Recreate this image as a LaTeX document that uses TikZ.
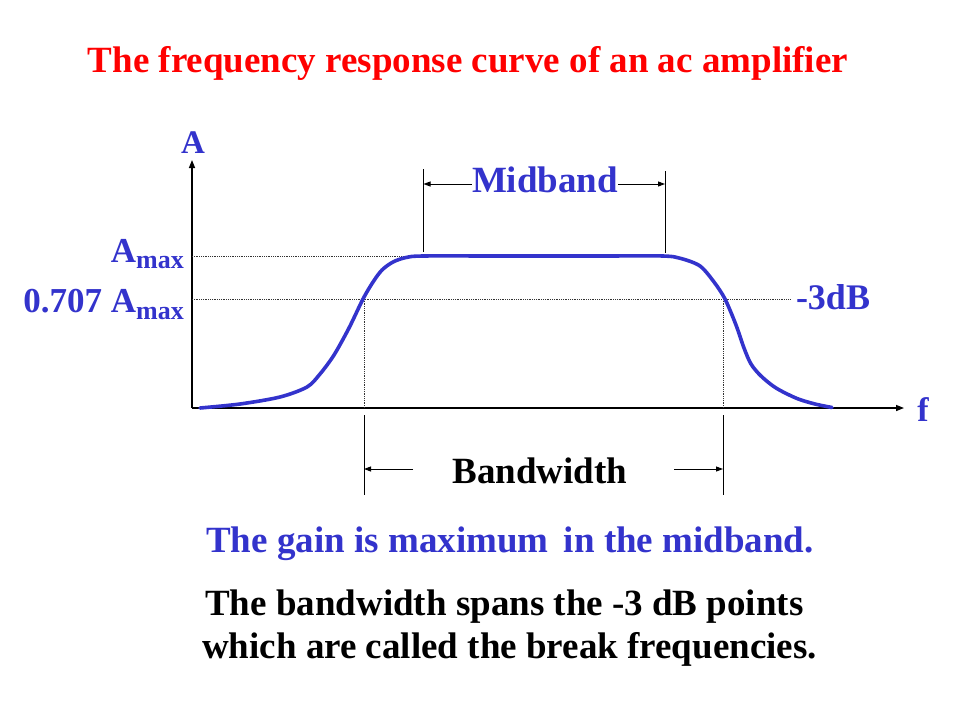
\documentclass[tikz,border=0pt]{standalone}
\usepackage{fontspec}
\setmainfont{Liberation Serif}
\usetikzlibrary{arrows.meta}
\definecolor{tblue}{RGB}{51,51,204}
\definecolor{tred}{RGB}{255,0,0}
\begin{document}
\begin{tikzpicture}[x=1pt,y=-1pt,
  txt/.style={inner sep=0pt,font=\bfseries\fontsize{37}{44}\selectfont},
  lbl/.style={inner sep=0pt,font=\bfseries\fontsize{35}{40}\selectfont,text=tblue},
  axisline/.style={line width=1.4pt,-{Triangle[length=8pt,width=6pt]}},
  marker/.style={line width=0.9pt},
  dimarrow/.style={line width=0.9pt,-{Triangle[length=7pt,width=5pt]}},
  dots/.style={line width=0.6pt,dash pattern=on 0.8pt off 1pt,black!80},
  curve/.style={line width=3.6pt,tblue,line cap=round}]
\fill[white] (0,0) rectangle (960,720);
\useasboundingbox (0,0) rectangle (960,720);
% title
\node[txt,text=tred,anchor=base] (title) at (468,72) {The frequency response curve of an ac amplifier};
% axes
\coordinate (O) at (192,408);
\coordinate (ytip) at (192,160);
\coordinate (xtip) at (904,408);
\draw[axisline] (O) -- (ytip);
\draw[axisline] (O) -- (xtip);
\node[lbl,anchor=base,font=\bfseries\fontsize{33}{40}\selectfont] (Alab) at (193,153) {A};
\node[lbl,anchor=base,font=\bfseries\fontsize{34}{40}\selectfont] (flab) at (923,421) {f};
% dotted reference lines
\coordinate (amaxL) at (192,256);
\coordinate (amaxR) at (405,256);
\coordinate (dbL) at (192,299);
\coordinate (dbR) at (790,299);
\coordinate (c1) at (364,299);
\coordinate (c2) at (723,299);
\coordinate (c1b) at (364,408);
\coordinate (c2b) at (723,408);
\draw[dots] (amaxL) -- (amaxR);
\draw[dots] (dbL) -- (dbR);
\draw[dots] (c1) -- (c1b);
\draw[dots] (c2) -- (c2b);
% labels on the left
\node[lbl,anchor=base east] (amax) at (184,262) {A\raisebox{-6pt}{\fontsize{26}{26}\selectfont max}};
\node[lbl,anchor=base east] (a707) at (184,312) {0.707 A\raisebox{-7pt}{\fontsize{26}{26}\selectfont max}};
\node[lbl,anchor=base,font=\bfseries\fontsize{36}{40}\selectfont] (db) at (833,309) {-3dB};
% curve
\draw[curve] plot[smooth,tension=0.5] coordinates {
 (200,408) (240,404) (280,397) (307,387) (320,374) (334,355) (349,328) (363,299)
 (373,282) (382,270) (393,262) (406,257.5) (423,256) (500,256) (600,256) (663,256)
 (681,258.5) (700,266) (714,282) (725,299) (736,325) (744,348) (751,364) (761,376)
 (776,388) (797,398.5) (815,404) (832,407.5)};
% midband marker
\node[txt,text=tblue,anchor=base] (mid) at (545,192) {Midband};
\coordinate (m1t) at (423.5,169);
\coordinate (m1b) at (423.5,252);
\coordinate (m2t) at (665,171);
\coordinate (m2b) at (665,253);
\coordinate (m1a) at (423.5,184);
\coordinate (m2a) at (665,184);
\draw[marker] (m1t) -- (m1b);
\draw[marker] (m2t) -- (m2b);
\draw[dimarrow] (mid.west |- m1a) -- (m1a);
\draw[dimarrow] (mid.east |- m2a) -- (m2a);
% bandwidth marker
\node[txt,anchor=base] (bw) at (540,483) {Bandwidth};
\coordinate (b1t) at (364,415);
\coordinate (b1b) at (364,495);
\coordinate (b2t) at (723,415);
\coordinate (b2b) at (723,495);
\coordinate (b1a) at (364,469);
\coordinate (b2a) at (723,469);
\coordinate (b1s) at (413,469);
\coordinate (b2s) at (674,469);
\draw[marker] (b1t) -- (b1b);
\draw[marker] (b2t) -- (b2b);
\draw[dimarrow] (b1s) -- (b1a);
\draw[dimarrow] (b2s) -- (b2a);
% bottom texts
\node[txt,text=tblue,anchor=base] (gain) at (510,552) {The gain is maximum\, in the midband.};
\node[txt,anchor=base west] (l1) at (205,615) {The bandwidth spans the -3 dB points};
\node[txt,anchor=base west] (l2) at (202,658) {which are called the break frequencies.};
\end{tikzpicture}
\end{document}
